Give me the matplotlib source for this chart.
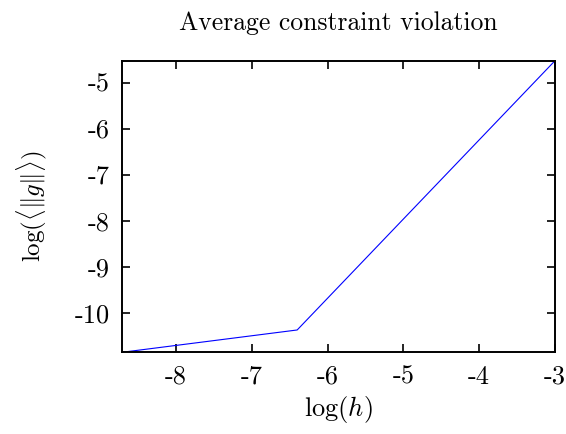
import matplotlib
matplotlib.use("Agg")
import matplotlib.pyplot as plt

x_vals = [-8.71, -6.40, -3.0]
y_vals = [-10.86, -10.375, -4.525]
x_ticks = [-8, -7, -6, -5, -4, -3]
y_ticks = [-10, -9, -8, -7, -6, -5]
title = "Average constraint violation"
xlabel = r"$\log(h)$"
ylabel = r"$\log(\langle\|g\|\rangle)$"

plt.rcParams['font.family'] = 'serif'
plt.rcParams['font.serif'] = ['cmr10']
plt.rcParams['mathtext.fontset'] = 'cm'
plt.rcParams['axes.unicode_minus'] = False
plt.rcParams['axes.formatter.use_mathtext'] = True

fig = plt.figure(figsize=(5.66, 4.34), dpi=100)
ax = fig.add_axes([122/566, 1-352.3/434, (555-122)/566, (352.3-60.7)/434])
ax.plot(x_vals, y_vals, color='blue', lw=0.8)
ax.set_xlim(-8.71, -3.0)
ax.set_ylim(-10.86, -4.525)
ax.set_xticks(x_ticks)
ax.set_yticks(y_ticks)
ax.set_xticklabels([str(t) for t in x_ticks])
ax.set_yticklabels([str(t) for t in y_ticks])
ax.tick_params(direction='in', length=6, width=1.2, top=True, right=True, labelsize=19)
ax.tick_params(axis='x', pad=9)
ax.tick_params(axis='y', pad=9)
for s in ax.spines.values():
    s.set_linewidth(1.4)
ax.set_title(title, fontsize=18.5, pad=22)
ax.set_xlabel(xlabel, fontsize=19, labelpad=4)
ax.set_ylabel(ylabel, fontsize=18, labelpad=18)
fig.savefig("out.png", dpi=100)
